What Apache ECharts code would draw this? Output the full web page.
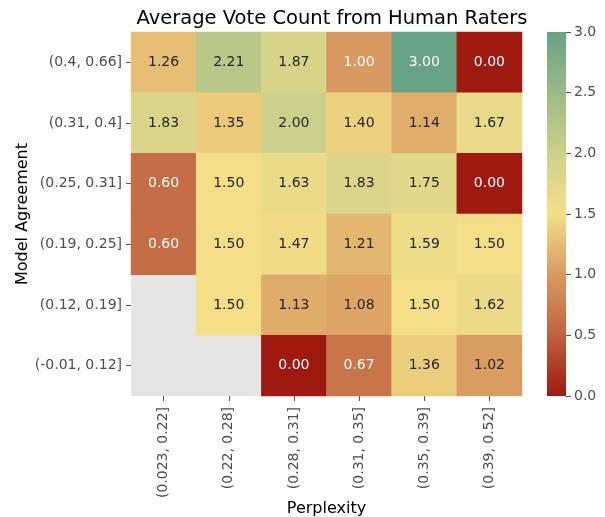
<!DOCTYPE html>
<html>
<head>
<meta charset="utf-8">
<script src="https://cdn.jsdelivr.net/npm/echarts@6/dist/echarts.min.js"></script>
<style>
  html, body { margin: 0; padding: 0; background: #fff; }
  #chart { width: 605px; height: 517px; }
</style>
</head>
<body>
<div id="chart"></div>
<script>
// 数据
const perplexityBins = ['(0.023, 0.22]', '(0.22, 0.28]', '(0.28, 0.31]', '(0.31, 0.35]', '(0.35, 0.39]', '(0.39, 0.52]'];
// 从上到下
const agreementBins = ['(0.4, 0.66]', '(0.31, 0.4]', '(0.25, 0.31]', '(0.19, 0.25]', '(0.12, 0.19]', '(-0.01, 0.12]'];
const voteRows = [
    [1.26, 2.21, 1.87, 1.00, 3.00, 0.00],
    [1.83, 1.35, 2.00, 1.40, 1.14, 1.67],
    [0.60, 1.50, 1.63, 1.83, 1.75, 0.00],
    [0.60, 1.50, 1.47, 1.21, 1.59, 1.50],
    [null, 1.50, 1.13, 1.08, 1.50, 1.62],
    [null, null, 0.00, 0.67, 1.36, 1.02]
];
const colorbarTicks = [0, 0.5, 1, 1.5, 2, 2.5, 3];

const palette = ['#9e1a10', '#c0623d', '#d89a60', '#f4df88', '#cdd08a', '#9dba87', '#67a284'];
const font = 'DejaVu Sans';

// 构建热力图数据
const cells = [];
voteRows.forEach((row, yi) => {
    row.forEach((v, xi) => {
        if (v === null) return;
        const light = v <= 1.0 || v >= 2.9;
        cells.push({
            value: [xi, yi, v],
            label: { color: light ? '#ffffff' : '#262626' }
        });
    });
});

// 色条渐变（从下到上 = 0 到 3）
const barStops = palette.map((c, i) => ({ offset: 1 - i / (palette.length - 1), color: c }));

const chart = echarts.init(document.getElementById('chart'));

const option = {
    backgroundColor: '#fff',
    animation: false,
    textStyle: { fontFamily: font },
    title: {
        text: 'Average Vote Count from Human Raters',
        left: 327,
        textAlign: 'center',
        top: 4,
        textStyle: { fontFamily: font, fontSize: 19.5, fontWeight: 'normal', color: '#000' }
    },
    grid: [
        {
            left: 131, top: 32, width: 391, height: 364,
            show: true, backgroundColor: '#e5e5e5', borderWidth: 0,
            containLabel: false, outerBoundsMode: 'none'
        },
        {
            left: 547, top: 32, width: 19, height: 364,
            show: false, containLabel: false, outerBoundsMode: 'none'
        }
    ],
    xAxis: [
        {
            type: 'category',
            gridIndex: 0,
            data: perplexityBins,
            axisLine: { show: false },
            axisTick: { show: true, length: 5, alignWithLabel: true, lineStyle: { color: '#555' } },
            axisLabel: { rotate: 90, fontSize: 14, color: '#4d4d4d', margin: 11, fontFamily: font },
            splitLine: { show: false },
            name: 'Perplexity',
            nameLocation: 'middle',
            nameGap: 105,
            nameMoveOverlap: false,
            nameTextStyle: { fontSize: 16, color: '#000', fontFamily: font }
        },
        {
            type: 'value',
            gridIndex: 1,
            show: false,
            axisLine: { show: false },
            axisTick: { show: false },
            axisLabel: { show: false },
            splitLine: { show: false }
        }
    ],
    yAxis: [
        {
            type: 'category',
            gridIndex: 0,
            inverse: true,
            data: agreementBins,
            axisLine: { show: false },
            axisTick: { show: true, length: 5, alignWithLabel: true, lineStyle: { color: '#555' } },
            axisLabel: { fontSize: 14, color: '#4d4d4d', margin: 9, fontFamily: font },
            splitLine: { show: false },
            name: 'Model Agreement',
            nameLocation: 'middle',
            nameGap: 100,
            nameMoveOverlap: false,
            nameTextStyle: { fontSize: 16, color: '#000', fontFamily: font }
        },
        {
            type: 'value',
            gridIndex: 1,
            position: 'right',
            min: 0,
            max: 3,
            interval: 0.5,
            axisLine: { show: false, onZero: false },
            axisTick: { show: true, length: 5, lineStyle: { color: '#555' } },
            axisLabel: {
                fontSize: 14, color: '#4d4d4d', margin: 8, fontFamily: font,
                formatter: v => v.toFixed(1)
            },
            splitLine: { show: false }
        }
    ],
    visualMap: {
        type: 'continuous',
        show: false,
        seriesIndex: 0,
        min: 0,
        max: 3,
        inRange: { color: palette }
    },
    graphic: [
        {
            type: 'rect',
            left: 547,
            top: 32,
            shape: { width: 19, height: 364 },
            style: { fill: new echarts.graphic.LinearGradient(0, 0, 0, 1, barStops) },
            silent: true
        }
    ],
    series: [
        {
            type: 'heatmap',
            xAxisIndex: 0,
            yAxisIndex: 0,
            data: cells,
            label: {
                show: true,
                fontSize: 14,
                fontFamily: font,
                formatter: p => p.value[2].toFixed(2)
            },
            itemStyle: { borderWidth: 0 },
            emphasis: { disabled: true }
        }
    ]
};

chart.setOption(option);
</script>
</body>
</html>
